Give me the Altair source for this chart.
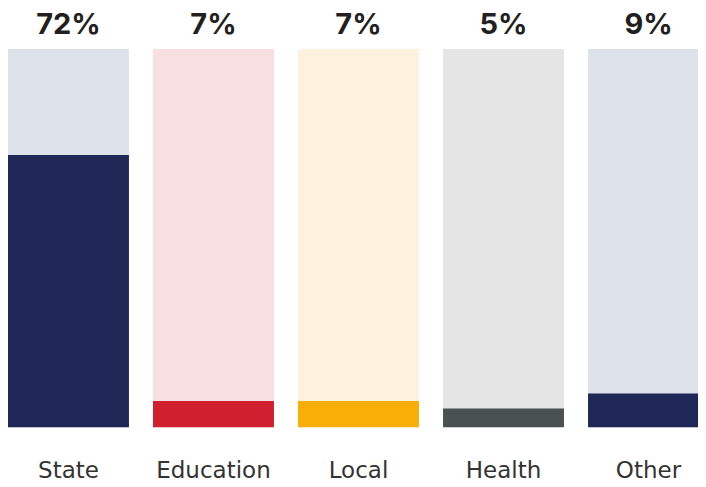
import altair as alt
import pandas as pd

categories = ["State", "Education", "Local", "Health", "Other"]
values = [72, 7, 7, 5, 9]
labels = ["72%", "7%", "7%", "5%", "9%"]
fg_colors = ["#1f2756", "#d02030", "#f9ae07", "#495153", "#1f2756"]
bg_colors = ["#dde1ea", "#f7dfe2", "#fdf2dd", "#e5e5e5", "#dde1ea"]

df = pd.DataFrame({
    "cat": categories,
    "value": values,
    "label": labels,
    "full": [100] * len(categories),
    "fg": fg_colors,
    "bg": bg_colors,
})

x = alt.X(
    "cat:N",
    sort=categories,
    scale=alt.Scale(paddingInner=0.166, paddingOuter=0, range=[0, 701]),
    axis=alt.Axis(
        title=None, domain=False, ticks=False, labelAngle=0,
        labelFont="DejaVu Sans", labelFontSize=23, labelColor="#333333",
        labelPadding=32,
    ),
)
yscale = alt.Scale(domain=[0, 100], nice=False)

base = alt.Chart(df)

bg = base.mark_bar(clip=True).encode(
    x=x,
    y=alt.Y("full:Q", scale=yscale, axis=None),
    color=alt.Color("bg:N", scale=None),
)
fg = base.mark_bar(clip=True).encode(
    x=x,
    y=alt.Y("value:Q", scale=yscale, axis=None),
    color=alt.Color("fg:N", scale=None),
)
txt = base.mark_text(
    font="Inter", fontWeight="bold", fontSize=29, color="#231f20",
    baseline="alphabetic", dy=-15,
).encode(
    x=x,
    y=alt.Y("full:Q", scale=yscale, axis=None),
    text="label:N",
)

chart = alt.layer(bg, fg, txt).properties(
    width=690,
    height=378.5,
    autosize=alt.AutoSizeParams(type="none"),
    padding={"left": 0, "top": 41, "right": 0, "bottom": 56},
).configure_view(stroke=None)

chart.save("out.html", embed_options={"renderer": "svg", "actions": False})
